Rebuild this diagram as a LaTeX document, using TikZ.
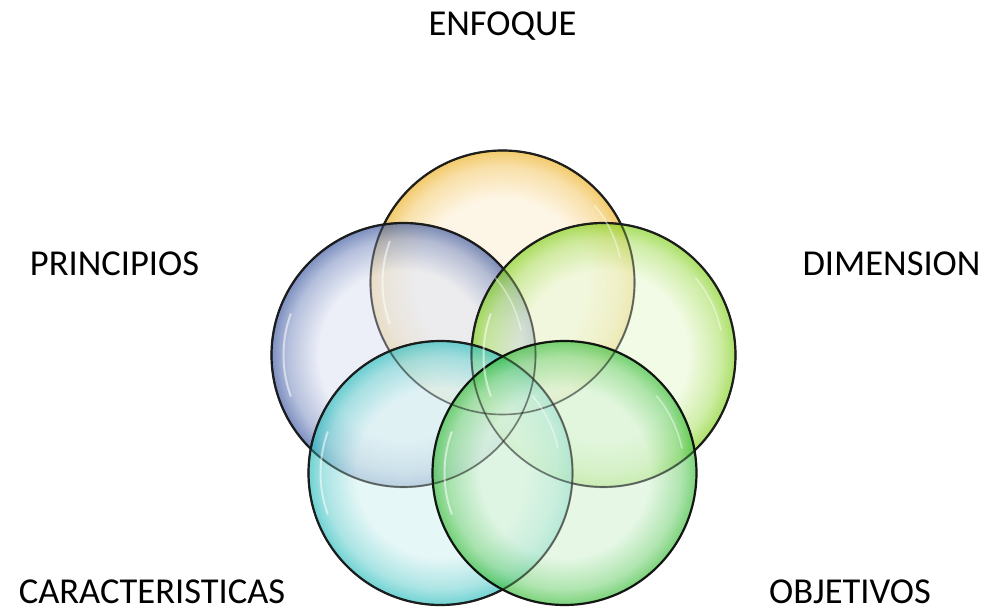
\documentclass[tikz,border=0pt]{standalone}
\usepackage{fontspec}
\setmainfont{Carlito}
\definecolor{orEdge}{HTML}{EDB020}
\definecolor{orIn}{HTML}{FDF1D8}
\definecolor{blEdge}{HTML}{3A56A0}
\definecolor{blIn}{HTML}{E4E8F5}
\definecolor{liEdge}{HTML}{80D018}
\definecolor{liIn}{HTML}{ECF9D8}
\definecolor{teEdge}{HTML}{28BCBC}
\definecolor{teIn}{HTML}{DAF3F3}
\definecolor{grEdge}{HTML}{36BC36}
\definecolor{grIn}{HTML}{DAF4DA}
\pgfdeclareradialshading{orball}{\pgfpoint{0bp}{0bp}}{color(0bp)=(orIn); color(16bp)=(orIn); color(22bp)=(orEdge!50!orIn); color(25bp)=(orEdge); color(50bp)=(orEdge)}
\pgfdeclareradialshading{blball}{\pgfpoint{0bp}{0bp}}{color(0bp)=(blIn); color(16bp)=(blIn); color(22bp)=(blEdge!50!blIn); color(25bp)=(blEdge); color(50bp)=(blEdge)}
\pgfdeclareradialshading{liball}{\pgfpoint{0bp}{0bp}}{color(0bp)=(liIn); color(16bp)=(liIn); color(22bp)=(liEdge!50!liIn); color(25bp)=(liEdge); color(50bp)=(liEdge)}
\pgfdeclareradialshading{teball}{\pgfpoint{0bp}{0bp}}{color(0bp)=(teIn); color(16bp)=(teIn); color(22bp)=(teEdge!50!teIn); color(25bp)=(teEdge); color(50bp)=(teEdge)}
\pgfdeclareradialshading{grball}{\pgfpoint{0bp}{0bp}}{color(0bp)=(grIn); color(16bp)=(grIn); color(22bp)=(grEdge!50!grIn); color(25bp)=(grEdge); color(50bp)=(grEdge)}
\tikzset{
  bubble/.style={circle, inner sep=0pt, minimum size=264pt, draw=black, line width=2.2pt,
    draw opacity=0.9, fill opacity=0.66},
  rim/.style={draw=black!85, line width=1.6pt, opacity=0.55},
  lbl/.style={font=\fontsize{36.5}{44}\selectfont, text=black, inner sep=0pt, anchor=base},
  gloss/.style={white, line width=2pt, line cap=round, opacity=0.55}
}
\begin{document}
\begin{tikzpicture}[x=1pt,y=-1pt]
\useasboundingbox (0,0) rectangle (989,612);
\fill[white] (0,0) rectangle (989,612);
\node[bubble, shading=orball] (enf) at (502.5,282.5) {};
\node[bubble, shading=blball] (pri) at (403.5,355) {};
\node[bubble, shading=liball] (dim) at (603.5,355) {};
\node[bubble, shading=teball] (car) at (440.5,473) {};
\node[bubble, shading=grball] (obj) at (564.5,473) {};
% outlines seen through the upper bubbles
\foreach \c in {enf,pri,dim,car}{
  \draw[rim] (\c.center) circle[radius=132];
}
% glossy highlights
\foreach \c in {enf,pri,dim,car,obj}{
  \draw[gloss] (\c.center) ++(160:120) arc[start angle=160, end angle=200, radius=120];
  \draw[gloss, line width=1.6pt, opacity=0.45] (\c.center) ++(-12:120) arc[start angle=-12, end angle=-40, radius=120];
}
\node[lbl] (tenf) at (502.5,36) {ENFOQUE};
\node[lbl] (tpri) at (114.5,276) {PRINCIPIOS};
\node[lbl] (tdim) at (891.5,276) {DIMENSION};
\node[lbl] (tcar) at (152,603) {CARACTERISTICAS};
\node[lbl] (tobj) at (850,603) {OBJETIVOS};
\end{tikzpicture}
\end{document}
